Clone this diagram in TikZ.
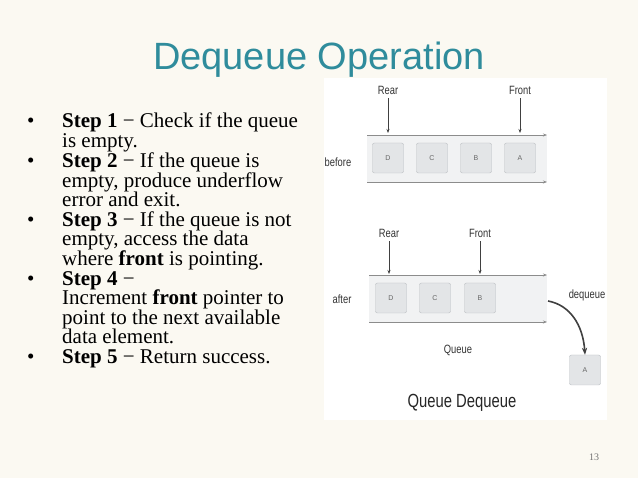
\documentclass[tikz,border=0pt]{standalone}
\usepackage{fontspec}
\setmainfont{Liberation Serif}
\newfontfamily\arial{Liberation Sans}
\newfontfamily\narrow[FakeStretch=0.78]{Liberation Sans}
\usetikzlibrary{arrows.meta}
\definecolor{bg}{HTML}{FBF9F2}
\definecolor{teal}{HTML}{2F8C9C}
\definecolor{strip}{HTML}{F1F2F3}
\definecolor{boxf}{HTML}{E3E5E7}
\definecolor{boxd}{HTML}{B9BDC1}
\tikzset{
 x=1pt,y=-1pt,
 ln/.style={anchor=base west,font=\fontsize{21}{23}\selectfont,inner sep=0},
 bul/.style={anchor=base west,font=\fontsize{21}{23}\selectfont,inner sep=0},
 cell/.style={draw=boxd,fill=boxf,rounded corners=2pt,minimum width=31,minimum height=30,font=\arial\fontsize{7}{8}\selectfont,text=black!60,inner sep=0},
 lab/.style={font=\narrow\fontsize{12}{13}\selectfont,text=black!80,inner sep=0},
 rail/.style={draw=black!45,line width=0.6pt,-{Stealth[length=4pt]}},
 ptr/.style={draw=black!75,line width=0.6pt,-{Stealth[length=4pt]}}
}
\begin{document}
\begin{tikzpicture}
\fill[bg] (0,0) rectangle (638,478);
\useasboundingbox (0,0) rectangle (638,478);
\node[font=\arial\fontsize{38}{42}\selectfont,text=teal] (title) at (319,60) {Dequeue Operation};
% bullets
\foreach \y/\n in {128/b1,168/b2,227/b3,286/b4,364/b5}{\node[bul] (\n) at (27,\y) {\textbullet};}
\node[ln] (l1) at (62,128) {\textbf{Step 1} − Check if the queue};
\node[ln] (l2) at (62,148) {is empty.};
\node[ln] (l3) at (62,168) {\textbf{Step 2} − If the queue is};
\node[ln] (l4) at (62,188) {empty, produce underflow};
\node[ln] (l5) at (62,207) {error and exit.};
\node[ln] (l6) at (62,227) {\textbf{Step 3} − If the queue is not};
\node[ln] (l7) at (62,246) {empty, access the data};
\node[ln] (l8) at (62,266) {where \textbf{front} is pointing.};
\node[ln] (l9) at (62,286) {\textbf{Step 4} −};
\node[ln] (l10) at (62,305) {Increment \textbf{front} pointer to};
\node[ln] (l11) at (62,325) {point to the next available};
\node[ln] (l12) at (62,344) {data element.};
\node[ln] (l13) at (62,364) {\textbf{Step 5} − Return success.};
\node[font=\fontsize{10}{11}\selectfont,text=black!55] (pg) at (594,457) {13};
% image panel
\fill[white] (324,78) rectangle (607,420);
% before
\fill[strip] (367,135) rectangle (547,182);
\coordinate (r1a) at (367,135); \coordinate (r1b) at (547,135);
\coordinate (r2a) at (367,182); \coordinate (r2b) at (547,182);
\draw[rail] (r1a) -- (r1b); \draw[rail] (r2a) -- (r2b);
\node[cell] (bD) at (388,158) {D};
\node[cell] (bC) at (432,158) {C};
\node[cell] (bB) at (476,158) {B};
\node[cell] (bA) at (520,158) {A};
\node[lab] (bRear) at (388,90) {Rear};
\node[lab] (bFront) at (520,90) {Front};
\coordinate (bRe) at (388,133); \coordinate (bFe) at (520,133);
\draw[ptr] (bRear.south)++(0,4) -- (bRe);
\draw[ptr] (bFront.south)++(0,4) -- (bFe);
\node[lab] (before) at (338,162) {before};
% after
\fill[strip] (369,275) rectangle (547,322);
\coordinate (s1a) at (369,275); \coordinate (s1b) at (547,275);
\coordinate (s2a) at (369,322); \coordinate (s2b) at (547,322);
\draw[rail] (s1a) -- (s1b); \draw[rail] (s2a) -- (s2b);
\node[cell] (aD) at (391,298) {D};
\node[cell] (aC) at (435,298) {C};
\node[cell] (aB) at (480,298) {B};
\node[lab] (aRear) at (389,233) {Rear};
\node[lab] (aFront) at (480,233) {Front};
\coordinate (aRe) at (389,274); \coordinate (aFe) at (480,274);
\draw[ptr] (aRear.south)++(0,4) -- (aRe);
\draw[ptr] (aFront.south)++(0,4) -- (aFe);
\node[lab] (after) at (342,299) {after};
\node[lab] (deq) at (587,295) {dequeue};
\node[cell] (outA) at (585,370) {A};
\coordinate (cs) at (548,301);
\draw[line width=1.6pt,black!75,-{Stealth[length=7pt]}] (cs) .. controls (570,305) and (583,325) .. (outA.north);
\node[lab] (queue) at (458,350) {Queue};
\node[font=\narrow\fontsize{19}{21}\selectfont,text=black!85,inner sep=0] (cap) at (462,403) {Queue Dequeue};
\end{tikzpicture}
\end{document}
